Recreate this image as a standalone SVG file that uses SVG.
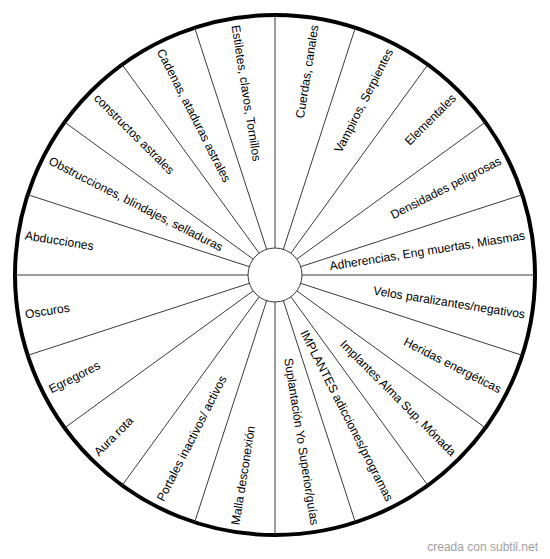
<svg xmlns="http://www.w3.org/2000/svg" width="550" height="559" viewBox="0 0 550 559">
<style>
  .lbl { font-family: "Liberation Sans", Arial, sans-serif; font-size: 12.1px; fill: #000; dominant-baseline: central; }
  .r { text-anchor: end; }
  .l { text-anchor: start; }
  .div { stroke: #3a3a3a; stroke-width: 1; fill: none; }
  .wm { font-family: "Liberation Sans", Arial, sans-serif; font-size: 12px; fill: #a0a0a0; text-anchor: end; }
</style>
<rect x="0" y="0" width="550" height="559" fill="#fff"/>
<g id="rim">
  <circle cx="275" cy="275" r="260" fill="#fff" stroke="#000" stroke-width="4"/>
</g>
<g id="connectors">
  <path class="div" d="M275,248 L275,15 M283.34,249.32 L355.34,27.72 M290.87,253.16 L427.83,64.66 M296.84,259.13 L485.34,122.17 M300.68,266.66 L522.28,194.66 M302,275 L535,275 M300.68,283.34 L522.28,355.34 M296.84,290.87 L485.34,427.83 M290.87,296.84 L427.83,485.34 M283.34,300.68 L355.34,522.28 M275,302 L275,535 M266.66,300.68 L194.66,522.28 M259.13,296.84 L122.17,485.34 M253.16,290.87 L64.66,427.83 M249.32,283.34 L27.72,355.34 M248,275 L15,275 M249.32,266.66 L27.72,194.66 M253.16,259.13 L64.66,122.17 M259.13,253.16 L122.17,64.66 M266.66,249.32 L194.66,27.72"/>
</g>
<g id="hub">
  <circle cx="275" cy="275" r="27" fill="#fff" stroke="#3a3a3a" stroke-width="1"/>
</g>
<g id="n01"><text class="lbl r" x="528" y="275" transform="rotate(-81 275 275)">Cuerdas, canales</text></g>
<g id="n02"><text class="lbl r" x="528" y="275" transform="rotate(-63 275 275)">Vampiros, Serpientes</text></g>
<g id="n03"><text class="lbl r" x="528" y="275" transform="rotate(-45 275 275)">Elementales</text></g>
<g id="n04"><text class="lbl r" x="528" y="275" transform="rotate(-27 275 275)">Densidades peligrosas</text></g>
<g id="n05"><text class="lbl r" x="528" y="275" transform="rotate(-9 275 275)">Adherencias, Eng muertas, Miasmas</text></g>
<g id="n06"><text class="lbl r" x="528" y="275" transform="rotate(9 275 275)">Velos paralizantes/negativos</text></g>
<g id="n07"><text class="lbl r" x="528" y="275" transform="rotate(27 275 275)">Heridas energéticas</text></g>
<g id="n08"><text class="lbl r" x="528" y="275" transform="rotate(45 275 275)">Implantes Alma Sup, Mónada</text></g>
<g id="n09"><text class="lbl r" x="528" y="275" transform="rotate(63 275 275)">IMPLANTES adicciones/programas</text></g>
<g id="n10"><text class="lbl r" x="528" y="275" transform="rotate(81 275 275)">Suplantación Yo Superior/guías</text></g>
<g id="n11"><text class="lbl l" x="22" y="275" transform="rotate(-81 275 275)">Malla desconexión</text></g>
<g id="n12"><text class="lbl l" x="22" y="275" transform="rotate(-63 275 275)">Portales inactivos/ activos</text></g>
<g id="n13"><text class="lbl l" x="22" y="275" transform="rotate(-45 275 275)">Aura rota</text></g>
<g id="n14"><text class="lbl l" x="22" y="275" transform="rotate(-27 275 275)">Egregores</text></g>
<g id="n15"><text class="lbl l" x="22" y="275" transform="rotate(-9 275 275)">Oscuros</text></g>
<g id="n16"><text class="lbl l" x="22" y="275" transform="rotate(9 275 275)">Abducciones</text></g>
<g id="n17"><text class="lbl l" x="22" y="275" transform="rotate(27 275 275)">Obstrucciones, blindajes, selladuras</text></g>
<g id="n18"><text class="lbl l" x="22" y="275" transform="rotate(45 275 275)">constructos astrales</text></g>
<g id="n19"><text class="lbl l" x="22" y="275" transform="rotate(63 275 275)">Cadenas, ataduras astrales</text></g>
<g id="n20"><text class="lbl l" x="22" y="275" transform="rotate(81 275 275)">Estiletes, clavos, Tornillos</text></g>
<text class="wm" x="538" y="551">creada con subtil.net</text>
</svg>
